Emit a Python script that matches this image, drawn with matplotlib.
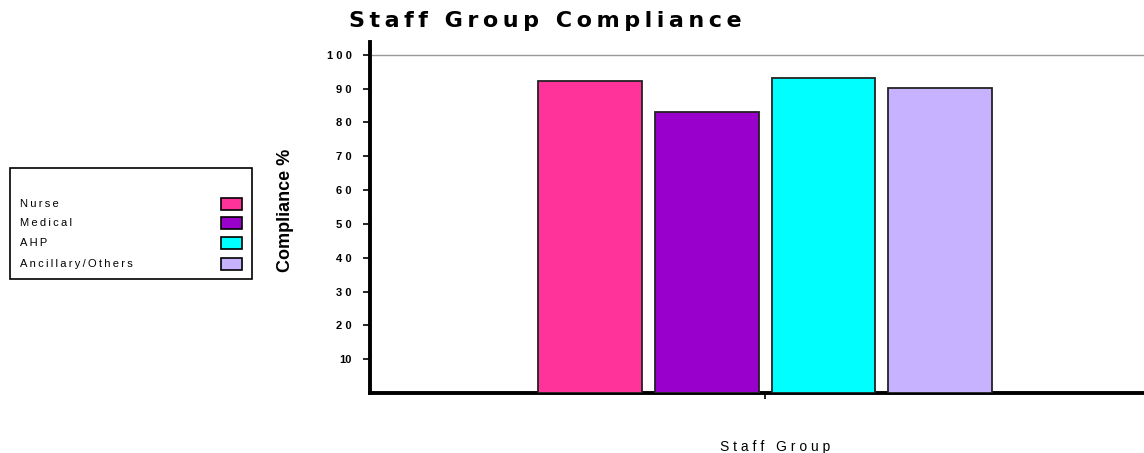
import matplotlib
matplotlib.use('Agg')
import matplotlib.pyplot as plt
from matplotlib.patches import Rectangle

groups = ['Nurse', 'Medical', 'AHP', 'Ancillary/Others']
compliance = [92.3, 83.2, 93.1, 90.1]
colors = ['#ff3399', '#9900cc', '#00ffff', '#c7b2ff']
y_ticks = [10, 20, 30, 40, 50, 60, 70, 80, 90, 100]


def spaced(s, sep='\u2009'):
    return sep.join(s)


plt.rcParams['font.family'] = ['Liberation Sans', 'DejaVu Sans']

fig = plt.figure(figsize=(11.44, 4.53), dpi=100)
W, H = 1144, 453
ax = fig.add_axes([370 / W, 60 / H, 1 - 370 / W, (393 - 42) / H])

pos = list(range(len(groups)))
bars = ax.bar(pos, compliance, width=0.89, color=colors, edgecolor='#222222',
              linewidth=1.3, zorder=3)

ax.set_xlim(-1.89, 4.75)
ax.set_ylim(0, 103.8)
ax.axhline(100, color='#999999', linewidth=1, zorder=1)

ax.set_yticks(y_ticks)
ax.set_yticklabels([' '.join(str(t)) if t != 10 else '10' for t in y_ticks],
                   fontsize=8, fontweight='bold')
ax.set_xticks([1.5])
ax.set_xticklabels([''])
ax.tick_params(axis='y', length=5, width=1.2, direction='out', pad=8)
ax.tick_params(axis='x', length=4, width=1.2, direction='out')

for s in ['top', 'right']:
    ax.spines[s].set_visible(False)
for s in ['left', 'bottom']:
    ax.spines[s].set_linewidth(2.8)

fig.text(545 / W, 1 - 21 / H, spaced('Staff Group Compliance', '\u2009'), ha='center',
         va='center', fontsize=16, fontweight='bold', family=['DejaVu Sans'])
fig.text(285 / W, 1 - 210 / H, 'Compliance %', rotation=90, ha='center', va='center',
         fontsize=13, fontweight='bold')
fig.text(775 / W, 1 - 447 / H, spaced('Staff Group', ' '), ha='center', va='center',
         fontsize=10)

# legend box: labels left, swatches right
fig.patches.append(Rectangle((10 / W, 1 - 279 / H), 242 / W, 111 / H, transform=fig.transFigure,
                             facecolor='white', edgecolor='black', linewidth=1.2))
row_y = [204, 223, 243, 264]
for name, c, yy in zip(groups, colors, row_y):
    fig.text(20 / W, 1 - yy / H, spaced(name), ha='left', va='center', fontsize=8)
    fig.patches.append(Rectangle((221 / W, 1 - (yy + 6) / H), 21 / W, 12 / H,
                                 transform=fig.transFigure, facecolor=c,
                                 edgecolor='black', linewidth=1.2))

fig.savefig('out.png', dpi=100)
